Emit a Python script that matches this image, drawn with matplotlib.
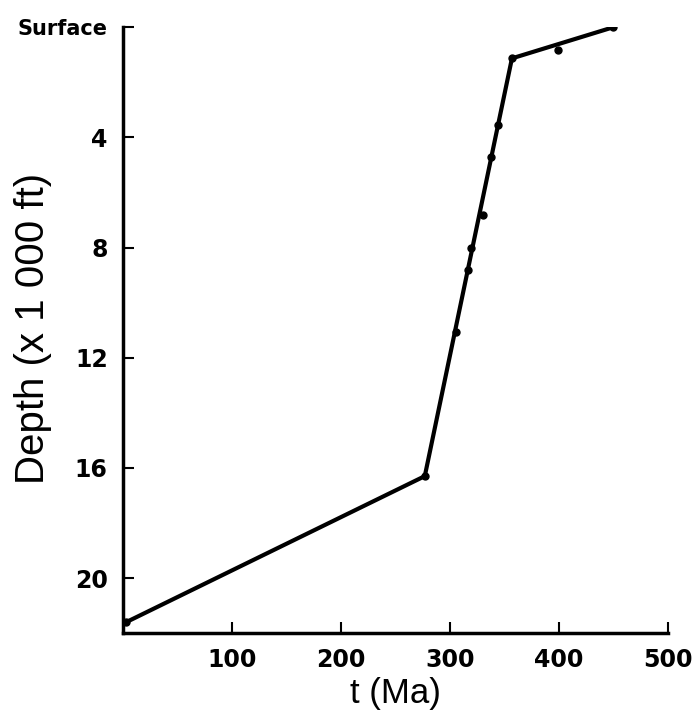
import matplotlib
matplotlib.use("Agg")
import matplotlib.pyplot as plt

# burial history: age (Ma) vs depth (x1000 ft)
t_line = [3, 277, 357, 450]
depth_line = [21.6, 16.3, 1.13, 0.0]

t_pts = [3, 277, 306, 316.5, 319, 330, 338, 344, 357, 399, 450]
depth_pts = [21.6, 16.3, 11.05, 8.8, 8.0, 6.8, 4.7, 3.56, 1.13, 0.84, 0.0]

yticks = [0, 4, 8, 12, 16, 20]
ytick_labels = ["Surface", "4", "8", "12", "16", "20"]
xticks = [100, 200, 300, 400, 500]

plt.rcParams['font.family'] = ['Liberation Sans', 'DejaVu Sans']

fig = plt.figure(figsize=(6.97, 7.17), dpi=100)
ax = fig.add_axes([0.1765, 0.117, 0.7815, 0.845])

ax.plot(t_line, depth_line, color="black", linewidth=3)
ax.plot(t_pts, depth_pts, "o", color="black", markersize=5)

ax.set_xlim(0, 500)
ax.set_ylim(22, 0)

for s in ["top", "right"]:
    ax.spines[s].set_visible(False)
for s in ["left", "bottom"]:
    ax.spines[s].set_linewidth(2.5)

ax.set_xticks(xticks)
ax.set_yticks(yticks)
ax.set_yticklabels(ytick_labels)
ax.tick_params(direction="in", length=8, width=1.5, pad=11)
for lab in ax.get_xticklabels() + ax.get_yticklabels():
    lab.set_family("DejaVu Sans")
    lab.set_fontweight("bold")
    lab.set_fontsize(15 if lab.get_text() == "Surface" else 17)

ax.set_xlabel("t (Ma)", fontsize=25)
ax.xaxis.set_label_coords(0.5, -0.072)
ax.set_ylabel("Depth (x 1 000 ft)", fontsize=29)
ax.yaxis.set_label_coords(-0.13, 0.503)

fig.savefig("out.png", dpi=100)
